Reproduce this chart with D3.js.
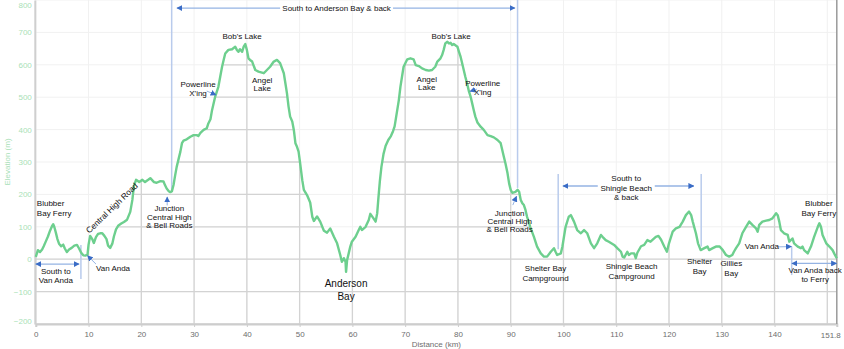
<!DOCTYPE html>
<html>
<head>
<meta charset="utf-8">
<script src="https://cdn.jsdelivr.net/npm/d3@7"></script>
<style>
  body { margin: 0; background: #fff; }
  svg { display: block; font-family: "Liberation Sans", Arial, Helvetica, sans-serif; }
</style>
</head>
<body>
<svg id="chart" width="844" height="349"></svg>
<script>
// Texada Island loop: elevation profile along the route
const distanceKm = [
  0.0, 0.4, 0.8, 1.2, 1.5, 1.9, 2.3, 2.7, 3.1, 3.3, 3.5, 3.8, 4.1, 4.4, 4.8, 5.2, 5.5, 5.9, 6.3, 6.8,
  7.3, 7.8, 8.2, 8.6, 9.0, 9.4, 9.8, 10.0, 10.3, 10.7, 11.0, 11.4, 11.8, 12.2, 12.6, 13.0, 13.4, 13.7, 14.1, 14.5,
  14.8, 15.2, 15.6, 16.2, 16.7, 17.3, 17.9, 18.3, 18.6, 19.0, 19.6, 20.2, 20.7, 21.3, 21.7, 22.4, 22.9, 23.6, 24.2, 24.5,
  24.8, 25.2, 25.5, 25.8, 26.1, 26.4, 26.7, 27.1, 27.4, 27.7, 28.0, 28.6, 29.3, 29.9, 30.5, 30.8, 31.2, 31.8, 32.4, 32.7,
  33.1, 33.4, 34.0, 34.6, 34.95, 35.3, 35.6, 35.9, 36.5, 37.2, 37.8, 38.1, 38.4, 38.7, 39.1, 39.4, 39.7, 40.0, 40.3, 40.6,
  41.0, 41.6, 42.2, 43.2, 43.8, 44.4, 45.1, 45.7, 46.3, 47.0, 47.3, 47.6, 47.9, 48.2, 48.6, 48.9, 49.2, 49.5, 49.8, 50.1,
  50.5, 50.8, 51.4, 52.0, 52.4, 52.7, 53.3, 53.9, 54.6, 55.2, 55.8, 56.5, 57.1, 57.7, 58.0, 58.4, 58.7, 58.8, 59.0, 59.3,
  59.6, 59.9, 60.6, 61.2, 61.5, 61.8, 62.5, 63.1, 63.4, 64.0, 64.4, 64.7, 64.9, 65.2, 65.5, 65.9, 66.3, 66.8, 67.3, 67.7,
  68.0, 68.2, 68.8, 69.1, 69.4, 69.7, 70.4, 71.0, 71.6, 72.0, 72.6, 73.2, 73.9, 74.5, 75.1, 75.7, 76.1, 76.7, 77.0, 77.3,
  77.6, 78.0, 78.3, 78.6, 78.9, 79.2, 79.9, 80.2, 80.5, 80.8, 81.1, 81.4, 81.8, 82.1, 82.4, 82.7, 83.0, 83.3, 83.7, 84.3,
  84.9, 85.6, 86.2, 86.8, 87.5, 88.1, 88.4, 88.7, 89.0, 89.4, 89.7, 90.0, 90.3, 90.9, 91.3, 91.6, 91.9, 92.2, 92.5, 92.8,
  93.1, 93.7, 94.4, 95.0, 95.7, 96.3, 96.9, 97.6, 98.2, 98.5, 98.8, 99.5, 99.8, 100.4, 101.0, 101.4, 102.0, 102.6, 103.3, 103.9,
  104.5, 105.2, 105.8, 106.4, 107.1, 107.4, 108.0, 108.6, 109.6, 110.2, 110.9, 111.2, 111.5, 112.1, 112.4, 112.8, 113.4, 113.7, 114.0, 114.7,
  115.3, 115.9, 116.5, 117.5, 118.0, 118.5, 119.1, 119.6, 120.0, 120.7, 121.3, 122.0, 122.6, 123.2, 123.8, 124.2, 124.5, 125.1, 125.5, 126.0,
  126.7, 127.3, 127.6, 128.3, 128.9, 129.6, 130.2, 130.8, 131.4, 132.0, 132.3, 132.7, 133.3, 133.9, 134.6, 135.2, 135.8, 136.5, 136.8, 137.1,
  137.7, 138.4, 139.0, 139.6, 140.3, 140.6, 140.9, 141.2, 141.8, 142.5, 142.8, 143.4, 143.7, 144.4, 145.0, 145.3, 145.6, 146.3, 146.9, 147.5,
  148.2, 148.5, 148.8, 149.1, 149.8, 150.4, 151.0, 151.4, 151.8
];

const elevationM = [
  7, 28, 22, 30, 40, 55, 70, 88, 103, 108, 100, 82, 62, 48, 40, 45, 33, 22, 30, 35,
  42, 44, 33, 20, 12, 11, 14, 45, 72, 62, 50, 68, 78, 80, 80, 72, 62, 42, 35, 48,
  70, 92, 103, 110, 115, 122, 146, 183, 226, 245, 238, 245, 238, 245, 250, 238, 236, 241, 240, 228,
  218, 210, 207, 210, 229, 258, 285, 312, 332, 358, 366, 370, 378, 383, 383, 380, 390, 399, 404, 419,
  432, 460, 502, 532, 563, 594, 615, 635, 646, 648, 656, 646, 640, 648, 640, 656, 664, 646, 620, 615,
  610, 584, 579, 574, 584, 594, 610, 615, 605, 574, 543, 512, 471, 440, 425, 399, 358, 347, 332, 296,
  244, 214, 198, 175, 131, 118, 132, 116, 88, 82, 95, 69, 49, 13, -8, 3, -8, -39, -2, 18,
  39, 54, 69, 90, 100, 90, 100, 121, 140, 126, 116, 142, 183, 240, 285, 325, 350, 368, 380, 395,
  410, 430, 491, 532, 563, 594, 617, 620, 617, 599, 596, 589, 584, 582, 584, 594, 610, 620, 630, 646,
  666, 671, 666, 668, 661, 664, 656, 640, 625, 605, 584, 563, 538, 517, 502, 481, 460, 440, 422, 409,
  399, 383, 380, 376, 368, 358, 337, 316, 296, 265, 234, 214, 205, 208, 214, 208, 183, 173, 167, 152,
  131, 100, 69, 39, 18, 8, 8, 23, 34, 23, 13, 18, 39, 100, 131, 136, 116, 90, 80, 90,
  80, 49, 34, 49, 75, 69, 59, 54, 44, 34, 23, 8, 5, 23, 13, 18, 18, 3, 20, 40,
  44, 59, 54, 69, 72, 60, 39, 23, 49, 85, 95, 100, 116, 136, 147, 136, 116, 80, 49, 28,
  34, 39, 28, 34, 39, 39, 28, 13, 8, 13, 23, 34, 49, 80, 100, 116, 106, 95, 85, 106,
  116, 119, 121, 126, 142, 136, 116, 90, 80, 75, 54, 64, 49, 39, 34, 39, 28, 18, 39, 69,
  100, 111, 100, 75, 49, 39, 28, 15, 3
];

const xTickValues = [0, 10, 20, 30, 40, 50, 60, 70, 80, 90, 100, 110, 120, 130, 140];
const xGridValues = [0, 10, 20, 30, 40, 50, 60, 70, 80, 90, 100, 110, 120, 130, 140, 150];
const xEndValue = 151.8;
const yTickValues = [-200, -100, 0, 100, 200, 300, 400, 500, 600, 700, 800];

// Place names, written as [km, elevation of first baseline, anchor, font size, line height, lines]
const placeLabels = [
  [0.2, 163, "start", 8, 10, ["Blubber", "Bay Ferry"]],
  [3.8, -46, "middle", 8, 8.5, ["South to", "Van Anda"]],
  [11.4, -35, "start", 8, 10, ["Van Anda"]],
  [25.3, 148, "middle", 8, 8.5, ["Junction", "Central High", "& Bell Roads"]],
  [30.75, 530, "middle", 8, 9, ["Powerline", "X'ing"]],
  [39.1, 680, "middle", 8, 10, ["Bob's Lake"]],
  [42.9, 544, "middle", 8, 8.5, ["Angel", "Lake"]],
  [58.8, -86, "middle", 10, 12.7, ["Anderson", "Bay"]],
  [74.1, 547, "middle", 8, 8.5, ["Angel", "Lake"]],
  [78.7, 680, "middle", 8, 10, ["Bob's Lake"]],
  [84.7, 534, "middle", 8, 8.5, ["Powerline", "X'ing"]],
  [89.8, 134, "middle", 8, 8.2, ["Junction", "Central High", "& Bell Roads"]],
  [111.9, 240, "middle", 8, 9.2, ["South to", "Shingle Beach", "& back"]],
  [96.6, -36, "middle", 8, 9.7, ["Shelter Bay", "Campground"]],
  [112.9, -30, "middle", 8, 10, ["Shingle Beach", "Campground"]],
  [125.8, -15, "middle", 8, 10, ["Shelter", "Bay"]],
  [131.8, -22, "middle", 8, 10, ["Gillies", "Bay"]],
  [137.6, 31, "middle", 8, 10, ["Van Anda"]],
  [148.4, 163, "middle", 8, 10, ["Blubber", "Bay Ferry"]],
  [147.7, -43, "middle", 8, 8.4, ["Van Anda back", "to Ferry"]]
];

// Pointer arrows: [km from, m from, km to, m to]
const pointerArrows = [
  [11.4, -15, 9.8, 11],
  [24.9, 166, 24.9, 192],
  [32.4, 519, 34.15, 507],
  [83.6, 525, 82.3, 518],
  [90.4, 167, 91.1, 194],
  [140.65, 38, 143.2, 39]
];

// Route-section arrows: [km from, km to, elevation, heads]  heads: "end" or "both"
const sectionArrows = [
  [46.3, 26.75, 775, "end"],
  [67.7, 90.8, 775, "end"],
  [106.5, 99.9, 226, "end"],
  [117.3, 124.7, 226, "end"],
  [0.0, 8.2, -15, "both"],
  [143.3, 151.75, -13, "both"]
];

// Section boundaries: [km, top m, bottom m]
const sectionBounds = [
  [25.75, 800, 213],
  [91.3, 800, 220],
  [8.55, 44, -61],
  [99.0, 263, 31],
  [126.1, 263, 39],
  [143.25, 39, -49]
];

const W = 844, H = 349;
const x = d3.scaleLinear().domain([0, xEndValue]).range([35.8, 836.8]);
const y = d3.scaleLinear().domain([-200, 800]).range([324, 0]);

const data = distanceKm.map((d, i) => ({ km: d, m: elevationM[i] }));
const svg = d3.select("#chart");

const lineColor = "#6dcf8e";
const axisGreen = "#a9dfb8";
const arrowBlue = "#3a6cc6";
const arrowLine = "#94b3e3";
const boundColor = "#b9cbec";

const defs = svg.append("defs");
defs.append("clipPath").attr("id", "underCurve")
  .append("path")
  .attr("d", d3.area().x(d => x(d.km)).y0(y(-200)).y1(d => y(d.m))(data));

function addMarker(id, orient) {
  defs.append("marker").attr("id", id)
    .attr("viewBox", "0 0 10 10").attr("refX", 9).attr("refY", 5)
    .attr("markerWidth", 6).attr("markerHeight", 6)
    .attr("markerUnits", "userSpaceOnUse")
    .attr("orient", orient)
    .append("path").attr("d", "M0,0L10,5L0,10z").attr("fill", arrowBlue);
}
addMarker("head", "auto");
addMarker("headStart", "auto-start-reverse");

// grid: faint everywhere, stronger beneath the profile
function drawGrid(g, color, w) {
  g.selectAll("line.h").data(yTickValues).join("line").attr("class", "h")
    .attr("x1", x(0)).attr("x2", x(xEndValue))
    .attr("y1", d => y(d)).attr("y2", d => y(d))
    .attr("stroke", color).attr("stroke-width", w);
  g.selectAll("line.v").data(xGridValues).join("line").attr("class", "v")
    .attr("x1", d => x(d)).attr("x2", d => x(d))
    .attr("y1", y(800)).attr("y2", y(-200))
    .attr("stroke", color).attr("stroke-width", w);
}
drawGrid(svg.append("g"), "#f1f1f1", 1);
drawGrid(svg.append("g").attr("clip-path", "url(#underCurve)"), "#d3d3d3", 1.3);

// axes
const xAxis = d3.axisBottom(x).tickValues(xTickValues).tickSize(3).tickPadding(4)
  .tickFormat(d3.format("d"));
const gx = svg.append("g").attr("transform", `translate(0,${y(-200)})`).call(xAxis);
gx.select(".domain").attr("stroke", "#cdcdcd").attr("stroke-width", 2);
gx.selectAll(".tick line").attr("stroke", "#cdcdcd");
gx.selectAll(".tick text").attr("fill", "#6e6e6e").attr("font-size", 8)
  .attr("font-family", "Liberation Sans, Arial, sans-serif");
gx.append("text").attr("x", x(xEndValue) + 4).attr("y", 13.5)
  .attr("text-anchor", "end").attr("fill", "#6e6e6e").attr("font-size", 8)
  .text(String(xEndValue));

const yAxis = d3.axisLeft(y).tickValues(yTickValues).tickSize(0).tickPadding(3);
const gy = svg.append("g").attr("transform", `translate(${x(0) - 1},0)`).call(yAxis);
gy.select(".domain").attr("stroke", "#cfcfcf").attr("stroke-width", 2);
gy.selectAll(".tick text").attr("fill", axisGreen).attr("font-size", 8)
  .attr("font-family", "Liberation Sans, Arial, sans-serif")
  .attr("dy", d => d === 800 ? "0.95em" : d === -200 ? "-0.1em" : "0.32em");

// right frame
svg.append("line").attr("x1", x(xEndValue)).attr("x2", x(xEndValue))
  .attr("y1", y(800)).attr("y2", y(-200))
  .attr("stroke", "#9a9a9a").attr("stroke-width", 1.5);

// axis titles
svg.append("text").attr("x", (x(0) + x(xEndValue)) / 2 + 0).attr("y", 347)
  .attr("text-anchor", "middle").attr("fill", "#6e6e6e").attr("font-size", 8)
  .text("Distance (km)");
svg.append("text").attr("transform", `translate(9.5,${y(300)}) rotate(-90)`)
  .attr("text-anchor", "middle").attr("fill", axisGreen).attr("font-size", 8)
  .text("Elevation (m)");

// section boundaries
svg.append("g").selectAll("line").data(sectionBounds).join("line")
  .attr("x1", d => x(d[0])).attr("x2", d => x(d[0]))
  .attr("y1", d => y(d[1])).attr("y2", d => y(d[2]))
  .attr("stroke", boundColor).attr("stroke-width", 1.5);

// elevation profile
svg.append("path").datum(data)
  .attr("fill", "none").attr("stroke", lineColor).attr("stroke-width", 2.4)
  .attr("stroke-linejoin", "round")
  .attr("d", d3.line().x(d => x(d.km)).y(d => y(d.m)));

// section arrows
svg.append("g").selectAll("line").data(sectionArrows).join("line")
  .attr("x1", d => x(d[0])).attr("x2", d => x(d[1]))
  .attr("y1", d => y(d[2])).attr("y2", d => y(d[2]))
  .attr("stroke", arrowLine).attr("stroke-width", 1.3)
  .attr("marker-end", "url(#head)")
  .attr("marker-start", d => d[3] === "both" ? "url(#headStart)" : null);

// pointer arrows
svg.append("g").selectAll("line").data(pointerArrows).join("line")
  .attr("x1", d => x(d[0])).attr("x2", d => x(d[2]))
  .attr("y1", d => y(d[1])).attr("y2", d => y(d[3]))
  .attr("stroke", arrowLine).attr("stroke-width", 1)
  .attr("marker-end", "url(#head)");

// top banner
svg.append("text").attr("x", x(57)).attr("y", y(766))
  .attr("text-anchor", "middle").attr("font-size", 8).attr("fill", "#111")
  .text("South to Anderson Bay & back");

// Central High Road, set along the climb
svg.append("text")
  .attr("transform", `translate(${x(14.4)},${y(158)}) rotate(-44)`)
  .attr("text-anchor", "middle").attr("dy", 3).attr("font-size", 8.3).attr("fill", "#111")
  .text("Central High Road");

// place names
const pl = svg.append("g").selectAll("text").data(placeLabels).join("text")
  .attr("x", d => x(d[0])).attr("y", d => y(d[1]))
  .attr("text-anchor", d => d[2]).attr("font-size", d => d[3]).attr("fill", "#111");
pl.each(function (d) {
  const t = d3.select(this);
  d[5].forEach((s, i) => {
    t.append("tspan").attr("x", x(d[0])).attr("dy", i === 0 ? 0 : d[4]).text(s);
  });
});
</script>
</body>
</html>
